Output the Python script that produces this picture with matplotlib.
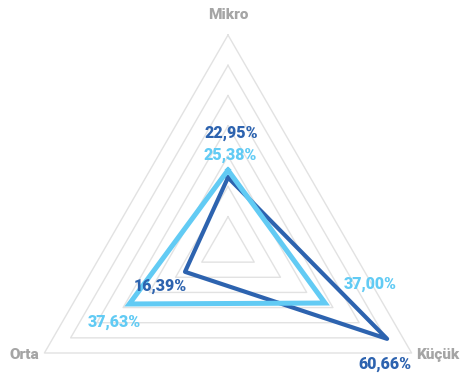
import numpy as np
import matplotlib.pyplot as plt

categories = ['Mikro', 'Küçük', 'Orta']
dark_values = [22.95, 60.66, 16.39]
light_values = [25.38, 37.00, 37.63]
dark_labels = ['22,95%', '60,66%', '16,39%']
light_labels = ['25,38%', '37,00%', '37,63%']
rings = [10, 20, 30, 40, 50, 60, 70]

dark = '#2D63AF'
light = '#62CBF4'
gray = '#A5A5A5'
font = ['Roboto', 'DejaVu Sans']

theta = np.deg2rad([0, 120, 240])
theta_closed = np.append(theta, theta[0])

fig = plt.figure(figsize=(4.63, 3.77), dpi=100)
ax = fig.add_axes([16 / 463, (377 - 459) / 377, 424 / 463, 424 / 377], projection='polar')
ax.set_theta_offset(np.pi / 2)
ax.set_theta_direction(-1)
ax.set_ylim(0, 70)
ax.grid(False)
ax.set_xticks([])
ax.set_yticks([])
ax.spines['polar'].set_visible(False)
ax.patch.set_alpha(0)

for r in rings:
    ax.plot(theta_closed, [r] * 4, color='#E2E2E2', lw=1.0, clip_on=False, zorder=1)

ax.plot(theta_closed, dark_values + dark_values[:1], color=dark, lw=3.0,
        solid_joinstyle='round', clip_on=False, zorder=3)
ax.plot(theta_closed, light_values + light_values[:1], color=light, lw=3.6,
        solid_joinstyle='miter', clip_on=False, zorder=4)

# category labels
cat_pos = [(0, 76.6), (117.2, 77.9), (242.1, 76.2)]
for name, (a, r) in zip(categories, cat_pos):
    ax.text(np.deg2rad(a), r, name, color=gray, fontsize=11, fontweight='heavy',
            family=font, ha='center', va='center', clip_on=False)

# value labels
dark_pos = [(1.5, 37.6), (126.7, 64.6), (240.2, 25.9)]
light_pos = [(1.5, 30.4), (104.6, 48.4), (236.7, 45.0)]
for lab, (a, r) in zip(dark_labels, dark_pos):
    ax.text(np.deg2rad(a), r, lab, color=dark, fontsize=11.5, fontweight='heavy',
            family=font, ha='center', va='center', clip_on=False, zorder=5)
for lab, (a, r) in zip(light_labels, light_pos):
    ax.text(np.deg2rad(a), r, lab, color=light, fontsize=11.5, fontweight='heavy',
            family=font, ha='center', va='center', clip_on=False, zorder=5)

fig.savefig('out.png', dpi=100)
